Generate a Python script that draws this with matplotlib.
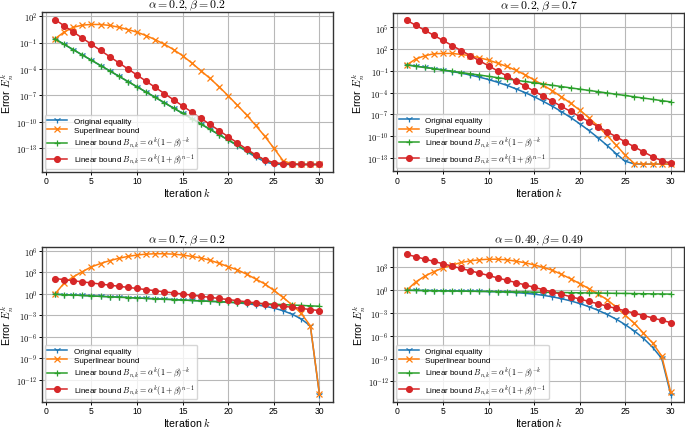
import numpy as np
import matplotlib
matplotlib.use('Agg')
import matplotlib.pyplot as plt
from matplotlib.ticker import FixedLocator, FuncFormatter, NullLocator

plt.rcParams['font.family'] = ['Liberation Sans', 'DejaVu Sans']
plt.rcParams['mathtext.fontset'] = 'cm'

# iteration index k
iterations = np.arange(1, 31)

# all values are log10 of the error
# alpha = 0.2, beta = 0.2
orig_1 = [-0.60, -1.20, -1.81, -2.41, -3.01, -3.61, -4.21, -4.82, -5.42, -6.02,
          -6.62, -7.22, -7.83, -8.43, -9.03, -9.63, -10.24, -10.84, -11.45, -12.06,
          -12.69, -13.34, -13.98, -14.51, -14.78, -14.82, -14.82, -14.82, -14.82, -14.82]
super_1 = [-0.58, 0.18, 0.72, 0.97, 1.05, 1.04, 0.94, 0.73, 0.47, 0.17,
           -0.22, -0.68, -1.20, -1.80, -2.50, -3.32, -4.20, -5.07, -6.02, -7.05,
           -8.11, -9.20, -10.39, -11.62, -12.98, -14.38, -14.76, -14.82, -14.82, -14.82]
lin_a_1 = [-0.60, -1.20, -1.81, -2.41, -3.01, -3.61, -4.21, -4.82, -5.42, -6.02,
           -6.62, -7.22, -7.83, -8.43, -9.03, -9.63, -10.24, -10.84, -11.44, -12.04,
           -12.64, -13.24, -13.81, -14.31, -14.64, -14.77, -14.80, -14.82, -14.82, -14.82]
lin_b_1 = [1.60, 0.90, 0.20, -0.50, -1.20, -1.90, -2.60, -3.30, -3.99, -4.69,
           -5.39, -6.09, -6.79, -7.49, -8.19, -8.89, -9.59, -10.29, -10.98, -11.68,
           -12.38, -13.07, -13.74, -14.30, -14.62, -14.74, -14.79, -14.81, -14.82, -14.82]

# alpha = 0.2, beta = 0.7
orig_2 = [-0.18, -0.35, -0.53, -0.71, -0.90, -1.10, -1.32, -1.58, -1.87, -2.20,
          -2.58, -3.00, -3.48, -4.00, -4.57, -5.21, -5.88, -6.63, -7.43, -8.29,
          -9.22, -10.21, -11.28, -12.42, -13.47, -13.83, -13.86, -13.86, -13.86, -13.86]
super_2 = [-0.20, 0.62, 1.08, 1.35, 1.40, 1.40, 1.26, 1.08, 0.80, 0.48,
           0.06, -0.40, -0.92, -1.55, -2.25, -2.98, -3.75, -4.58, -5.47, -6.42,
           -7.45, -8.62, -9.90, -11.25, -12.63, -13.78, -13.86, -13.86, -13.86, -13.86]
lin_a_2 = [-0.18, -0.35, -0.53, -0.70, -0.88, -1.06, -1.23, -1.41, -1.58, -1.76,
           -1.94, -2.11, -2.29, -2.47, -2.64, -2.82, -2.99, -3.17, -3.35, -3.52,
           -3.70, -3.87, -4.05, -4.23, -4.40, -4.58, -4.75, -4.93, -5.11, -5.28]
lin_b_2 = [5.98, 5.29, 4.59, 3.89, 3.19, 2.49, 1.79, 1.09, 0.39, -0.31,
           -1.01, -1.71, -2.40, -3.10, -3.80, -4.50, -5.20, -5.90, -6.60, -7.30,
           -7.99, -8.69, -9.39, -10.09, -10.79, -11.49, -12.17, -12.84, -13.40, -13.72]

# alpha = 0.7, beta = 0.2
orig_3 = [-0.06, -0.12, -0.17, -0.23, -0.29, -0.35, -0.41, -0.46, -0.52, -0.58,
          -0.64, -0.70, -0.75, -0.81, -0.87, -0.93, -0.99, -1.05, -1.11, -1.18,
          -1.27, -1.38, -1.53, -1.73, -2.00, -2.36, -2.85, -3.52, -4.49, -14.15]
super_3 = [-0.03, 1.50, 2.37, 3.10, 3.78, 4.24, 4.65, 4.97, 5.24, 5.43,
           5.56, 5.61, 5.61, 5.56, 5.43, 5.24, 5.02, 4.70, 4.27, 3.80,
           3.35, 2.76, 2.08, 1.39, 0.48, -0.50, -1.55, -2.74, -4.47, -14.05]
lin_a_3 = [-0.06, -0.12, -0.17, -0.23, -0.29, -0.35, -0.41, -0.46, -0.52, -0.58,
           -0.64, -0.70, -0.75, -0.81, -0.87, -0.93, -0.99, -1.04, -1.10, -1.16,
           -1.22, -1.28, -1.33, -1.39, -1.45, -1.51, -1.57, -1.62, -1.68, -1.74]
lin_b_3 = [2.14, 1.99, 1.83, 1.68, 1.52, 1.37, 1.21, 1.06, 0.90, 0.75,
           0.59, 0.44, 0.28, 0.13, -0.03, -0.18, -0.34, -0.49, -0.65, -0.80,
           -0.96, -1.11, -1.27, -1.42, -1.58, -1.73, -1.89, -2.04, -2.20, -2.35]

# alpha = 0.49, beta = 0.49
orig_4 = [-0.02, -0.03, -0.05, -0.07, -0.09, -0.10, -0.12, -0.14, -0.16, -0.19,
          -0.22, -0.26, -0.32, -0.41, -0.53, -0.68, -0.88, -1.12, -1.41, -1.76,
          -2.17, -2.64, -3.19, -3.81, -4.54, -5.37, -6.34, -7.51, -8.98, -13.78]
super_4 = [-0.02, 1.07, 1.84, 2.44, 2.91, 3.30, 3.64, 3.86, 3.99, 4.07,
           4.07, 3.99, 3.81, 3.60, 3.32, 3.00, 2.62, 2.08, 1.50, 0.86,
           0.21, -0.51, -1.24, -2.23, -3.30, -4.37, -5.66, -6.94, -8.66, -13.45]
lin_a_4 = [-0.02, -0.03, -0.05, -0.07, -0.09, -0.10, -0.12, -0.14, -0.16, -0.17,
           -0.19, -0.21, -0.23, -0.24, -0.26, -0.28, -0.30, -0.31, -0.33, -0.35,
           -0.37, -0.38, -0.40, -0.42, -0.43, -0.45, -0.47, -0.49, -0.50, -0.52]
lin_b_4 = [4.71, 4.40, 4.09, 3.78, 3.47, 3.16, 2.85, 2.54, 2.24, 1.93,
           1.61, 1.30, 1.00, 0.69, 0.37, 0.07, -0.24, -0.55, -0.86, -1.17,
           -1.48, -1.79, -2.10, -2.41, -2.72, -3.03, -3.34, -3.65, -3.96, -4.27]

titles = [r'$\alpha = 0.2, \beta = 0.2$', r'$\alpha = 0.2, \beta = 0.7$',
          r'$\alpha = 0.7, \beta = 0.2$', r'$\alpha = 0.49, \beta = 0.49$']
# labelled decades on each y axis
ytick_exp = [[2, -1, -4, -7, -10, -13],
             [5, 2, -1, -4, -7, -10, -13],
             [6, 3, 0, -3, -6, -9, -12],
             [3, 0, -3, -6, -9, -12]]
labels = ['Original equality', 'Superlinear bound',
          r'Linear bound $B_{n,k} = \alpha^k(1-\beta)^{-k}$',
          r'Linear bound $B_{n,k} = \alpha^k(1+\beta)^{n-1}$']

series = [(orig_1, super_1, lin_a_1, lin_b_1),
          (orig_2, super_2, lin_a_2, lin_b_2),
          (orig_3, super_3, lin_a_3, lin_b_3),
          (orig_4, super_4, lin_a_4, lin_b_4)]

styles = [dict(color='#1f77b4', marker='1', ms=5),
          dict(color='#ff7f0e', marker='x', ms=4),
          dict(color='#2ca02c', marker='+', ms=5),
          dict(color='#d62728', marker='o', ms=4.2)]

# axes boxes in figure fraction
boxes = [[0.0609, 0.5993, 0.4248, 0.3698],
         [0.5742, 0.6002, 0.4244, 0.3673],
         [0.0609, 0.0650, 0.4248, 0.3603],
         [0.5742, 0.0650, 0.4244, 0.3589]]

fig = plt.figure(figsize=(6.85, 4.31), dpi=100)

for i in range(4):
    ax = fig.add_axes(boxes[i])
    for vals, st, lab in zip(series[i], styles, labels):
        ax.plot(iterations, 10.0 ** np.array(vals), lw=1.1, mew=0.9, label=lab, **st)
    ax.set_yscale('log')
    ax.yaxis.set_major_locator(FixedLocator([10.0 ** e for e in ytick_exp[i]]))
    ax.yaxis.set_minor_locator(NullLocator())
    ax.yaxis.set_major_formatter(FuncFormatter(lambda v, p: r'$10^{%d}$' % round(np.log10(v))))
    ax.set_xticks([0, 5, 10, 15, 20, 25, 30])
    ax.tick_params(labelsize=6.2, length=2, width=0.7, pad=1.2)
    ax.grid(True, color='#b8b8b8', lw=0.8)
    for sp in ax.spines.values():
        sp.set_color('#333333')
        sp.set_linewidth(1.0)
    ax.set_title(titles[i], fontsize=8.5, pad=1.5)
    ax.set_xlabel(r'Iteration $k$', fontsize=7.6, labelpad=0)
    ax.set_ylabel(r'Error $E_n^k$', fontsize=7.6, labelpad=0)
    ax.legend(loc='lower left', fontsize=5.8, handlelength=2.5, labelspacing=0.22,
              borderaxespad=0.35, borderpad=0.3)

fig.savefig('out.png', dpi=100)
